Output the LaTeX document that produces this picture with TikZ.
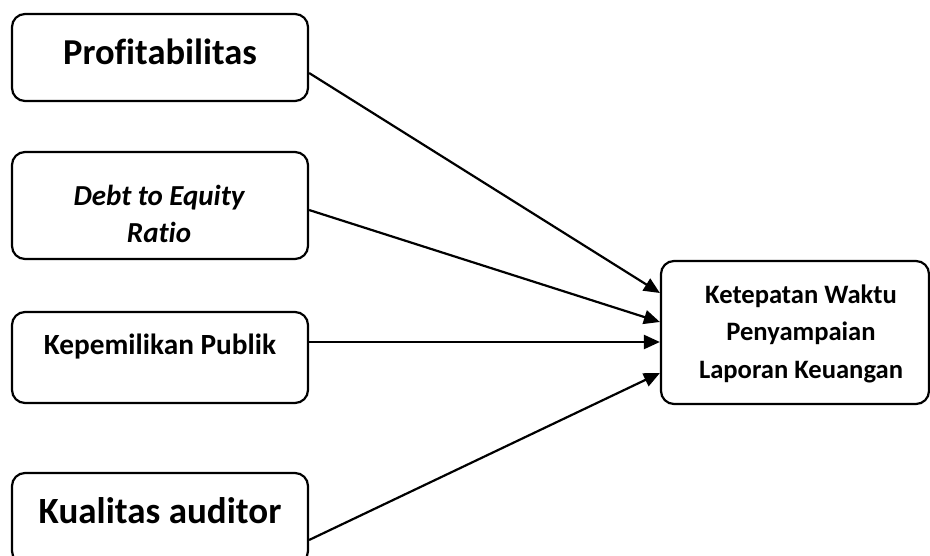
\documentclass[tikz,border=0pt]{standalone}
\usepackage{fontspec}
\setmainfont{Carlito}[Ligatures={NoCommon}]
\usetikzlibrary{arrows.meta}
\begin{document}
\begin{tikzpicture}[x=1pt,y=-1pt,
  box/.style={draw, line width=2.2pt, rounded corners=13pt, inner sep=0pt},
  lbl/.style={align=center, inner sep=0pt, anchor=base},
  arr/.style={line width=2.2pt, -{Triangle[length=16pt,width=14pt]}}]
\useasboundingbox (0,0) rectangle (930,556);
\clip (0,0) rectangle (930,556);
% boxes
\node[box, minimum width=296pt, minimum height=87pt] (b1) at (160,57.5) {};
\node[box, minimum width=296pt, minimum height=107pt] (b2) at (160,205.5) {};
\node[box, minimum width=296pt, minimum height=91pt] (b3) at (160,357.5) {};
\node[box, minimum width=296pt, minimum height=91pt] (b4) at (160,518.5) {};
\node[box, minimum width=268pt, minimum height=143pt] (tg) at (795,332.5) {};
% texts
\node[lbl, font=\bfseries\fontsize{36.5}{44}\selectfont] (t1) at (160,65) {Profitabilitas};
\node[lbl, font=\bfseries\itshape\fontsize{29}{37}\selectfont] (t2) at (159,243) {Debt to Equity\\Ratio};
\node[lbl, font=\bfseries\fontsize{29.3}{36}\selectfont] (t3) at (160,355) {Kepemilikan Publik};
\node[lbl, font=\bfseries\fontsize{37}{44}\selectfont] (t4) at (160,523) {Kualitas auditor};
\node[lbl, font=\bfseries\fontsize{26.6}{37.5}\selectfont] (tt) at (801,378) {Ketepatan Waktu\\Penyampaian\\Laporan Keuangan};
% arrows
\draw[arr] ([yshift=-15.5pt]b1.east) -- ([yshift=39.5pt]tg.west);
\draw[arr] ([yshift=-4.5pt]b2.east) -- ([yshift=10.5pt]tg.west);
\draw[arr] ([yshift=15.5pt]b3.east) -- ([yshift=-9.5pt]tg.west);
\draw[arr] ([yshift=-21.5pt]b4.east) -- ([yshift=-40.5pt]tg.west);
\end{tikzpicture}
\end{document}
